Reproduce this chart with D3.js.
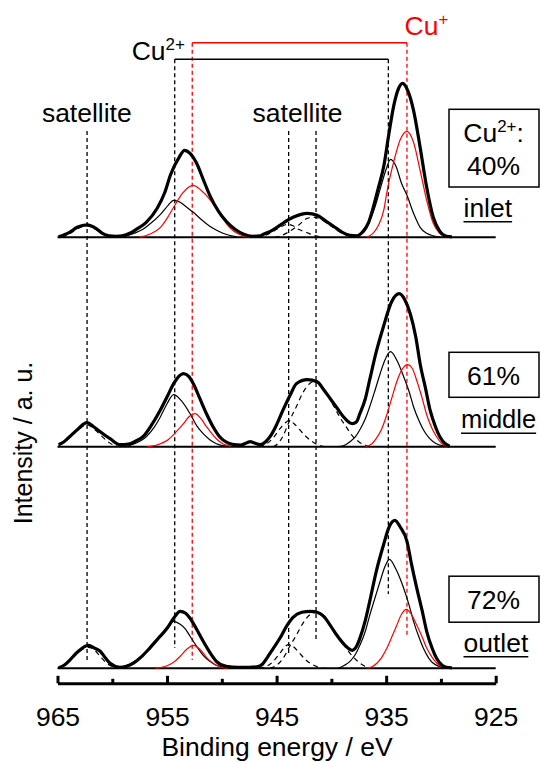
<!DOCTYPE html>
<html>
<head>
<meta charset="utf-8">
<script src="https://cdn.jsdelivr.net/npm/d3@7"></script>
<style>
  body { margin: 0; background: #fff; }
  text { font-family: "Liberation Sans", Arial, sans-serif; }
</style>
</head>
<body>
<svg id="chart" width="540" height="762"></svg>
<script>
// [binding energy (eV), intensity (a.u.)]

let inletEnvelope = [[964.9,0.5],[963.9,5],[963.2,10],[962.3,12.5],[961.5,9],[960.9,4],[960.3,1.5],[959.6,1],[959.1,1.5],[958.4,4],[957.8,8],[956.9,15],[955.9,29],[955.2,45],[954.7,62],[953.9,80],[953.4,87],[952.9,84],[952.3,74],[951.7,58],[951.1,42],[950.3,26],[949.6,16],[948.8,8],[948.0,3],[947.2,1],[946.5,1.5],[946.2,3],[945.4,7],[944.7,12],[943.5,20],[942.2,24],[941.3,22],[940.6,17],[939.8,11],[939.0,5],[938.3,2],[937.7,1.5],[937.1,6],[936.6,15],[936.2,29],[935.7,50],[935.2,72],[934.8,100],[934.3,132],[933.9,148],[933.5,154],[933.0,146],[932.5,127],[931.9,90],[931.3,50],[930.7,20],[930.1,6],[929.5,1],[929.0,0.5]]
let inletCu2p32 = [[938.0,0],[937.4,2],[936.9,7],[936.5,16],[936.0,31],[935.5,50],[935.0,68],[934.6,78],[934.1,71],[933.6,54],[933.1,42],[932.5,24],[931.9,10],[931.3,4],[930.7,1.5],[930.0,0]]
let inletCu1p32 = [[936.8,0],[936.2,4],[935.7,12],[935.2,28],[934.9,47],[934.3,76],[933.7,98],[933.1,106],[932.5,95],[931.9,67],[931.3,37],[930.7,14],[930.1,4],[929.5,0]]
let inletCu2p12 = [[958.9,0.5],[958.1,3.5],[957.2,8],[956.6,13],[955.6,23],[954.9,32],[954.4,37],[953.8,35],[953.2,30],[952.6,25],[951.9,18],[951.1,11],[950.3,6],[949.5,2.5],[948.6,0.5]]
let inletCu1p12 = [[957.5,0],[956.6,3],[955.6,10],[955.0,19],[954.4,30],[953.6,44],[952.6,52],[951.9,47],[951.1,38],[950.2,24],[949.6,14],[948.9,6],[948.1,1.5],[947.5,0]]
let inletSat1 = [[964.6,0],[963.9,3.5],[963.2,8.5],[962.3,11.5],[961.6,8.5],[960.9,3.5],[960.3,1],[959.8,0]]
let inletSatA = [[946.8,0],[946.0,2],[945.3,6],[944.7,10],[944.0,13],[943.5,11.5],[943.0,8],[942.3,5],[941.6,2],[940.8,0]]
let inletSatB = [[945.2,0],[944.5,2],[943.8,6],[943.0,12],[942.2,19],[941.5,20],[940.8,17],[940.0,11],[939.2,5],[938.4,1.5],[937.7,0]]

let middleEnvelope = [[964.9,2],[964.4,5],[963.9,10],[963.2,17],[962.3,24],[961.7,20],[961.1,15],[960.6,11],[960.2,8],[959.3,2],[958.4,3],[957.8,6],[957.2,10],[956.4,22],[955.6,37],[954.9,52],[954.4,63],[953.5,73],[953.0,70],[952.6,63],[952.0,48],[951.4,33],[950.8,20],[950.2,10],[949.5,4],[948.9,2],[948.3,1.5],[947.7,4],[947.4,5],[947.1,4],[946.5,2],[946.0,5],[945.6,10],[945.0,22],[944.4,37],[943.7,53],[943.2,63],[942.2,67],[941.3,65],[940.7,57],[940.1,48],[939.5,39],[938.9,30],[938.1,23],[937.7,25],[937.4,33],[936.9,48],[936.5,67],[935.9,95],[935.25,120],[934.5,145],[933.8,153],[933.3,147],[932.8,133],[932.3,110],[931.9,83],[931.4,58],[931.0,37],[930.5,20],[930.1,10],[929.6,3],[929.2,0.5]]
let middleCu2p32 = [[939.4,0],[938.7,2],[938.3,5],[937.8,10],[937.4,17],[936.9,28],[936.5,40],[936.0,57],[935.55,73],[935.1,87],[934.6,95],[934.0,86],[933.4,70],[932.9,55],[932.5,40],[932.0,26],[931.6,17],[931.1,9],[930.7,5],[930.2,2],[929.8,1],[929.3,0]]
let middleCu1p32 = [[936.9,0],[936.3,3],[935.85,9],[935.4,18],[934.94,32],[934.5,48],[934.0,66],[933.5,78],[933.05,82],[932.6,78],[932.2,66],[931.7,48],[931.3,32],[930.8,18],[930.4,10],[929.9,3],[929.4,0]]
let middleCu2p12 = [[958.8,0],[958.1,2.5],[957.4,6],[956.9,10],[956.2,19],[955.6,30],[955.0,43],[954.4,52],[953.7,46],[952.9,33],[952.3,21],[951.7,13],[951.1,7],[950.5,3],[949.6,0.5]]
let middleCu1p12 = [[956.8,0],[955.6,3],[954.9,7],[954.4,12],[953.9,18],[953.5,23],[953.0,30],[952.45,33],[951.9,28],[951.4,20],[950.9,13],[950.5,8],[949.9,3],[949.2,0.5]]
let middleSat1 = [[964.9,1],[963.9,9],[963.2,16],[962.3,22],[961.7,18],[961.1,12],[960.4,5],[959.7,1],[959.2,0]]
let middleSatA = [[946.6,0],[945.9,3],[945.3,9],[944.7,18],[944.2,24],[943.9,26],[943.4,23],[942.9,17],[942.3,10],[941.6,4],[941.0,1],[940.4,0]]
let middleSatB = [[945.3,0],[944.9,3],[944.4,11],[943.9,24],[943.2,40],[942.6,54],[942.0,63],[941.6,65],[941.0,62],[940.4,53],[939.8,41],[939.2,29],[938.6,19],[938.1,11],[937.5,5],[936.9,1.5],[936.4,0]]

let outletEnvelope = [[964.9,0.5],[964.4,3],[963.9,8],[963.2,16],[962.2,23],[961.6,20],[961.1,17],[960.6,10],[960.2,5],[959.3,1],[958.7,2],[958.1,5],[957.3,12],[956.6,20],[955.8,30],[955.0,40],[954.4,50],[953.8,57],[953.3,55],[952.9,50],[952.3,39],[951.7,27],[951.1,16],[950.5,7],[949.6,2],[948.5,1],[947.5,1],[946.8,1.5],[946.3,4],[945.9,10],[945.3,20],[944.7,30],[944.1,42],[943.5,51],[942.7,56],[941.9,57],[941.3,56],[940.7,52],[940.1,43],[939.5,33],[938.75,23],[938.1,18],[937.7,22],[937.4,30],[936.9,48],[936.5,67],[935.9,97],[935.25,123],[934.7,142],[934.2,148],[933.7,141],[933.1,127],[932.7,105],[932.2,80],[931.7,57],[931.3,37],[930.8,20],[930.4,10],[929.9,3],[929.5,1],[929.0,0.5]]
let outletCu2p32 = [[939.4,0],[938.8,3],[938.3,7],[937.8,14],[937.4,23],[936.9,37],[936.5,53],[936.0,71],[935.55,87],[935.1,102],[934.7,109],[934.1,99],[933.4,80],[932.9,63],[932.5,47],[932.0,31],[931.6,20],[931.1,10],[930.7,5],[930.2,2],[929.8,0.7],[929.4,0]]
let outletCu1p32 = [[936.7,0],[936.2,2],[935.85,5],[935.4,11],[934.94,20],[934.5,31],[934.03,43],[933.6,54],[933.15,59],[932.7,54],[932.2,43],[931.7,31],[931.29,20],[930.8,11],[930.37,5],[929.9,1.5],[929.4,0]]
let outletCu2p12 = [[959.3,0.5],[958.7,3],[958.1,6],[957.2,13],[956.6,19],[955.8,29],[955.0,39],[954.4,47],[953.8,44],[953.3,39],[952.9,32],[952.3,22],[951.7,13],[951.1,7],[950.5,3],[949.6,0.5]]
let outletCu1p12 = [[956.0,0],[955.0,2.5],[954.4,6],[953.8,12],[953.2,19],[952.6,23],[952.0,19],[951.4,11],[950.8,5],[950.2,1.5],[949.5,0]]
let outletSat1 = [[964.9,0.5],[963.9,7],[963.2,15],[962.2,21],[961.6,18],[961.1,12],[960.5,5],[959.9,1.5],[959.3,0]]
let outletSatA = [[946.6,0],[945.9,2],[945.3,7],[944.7,15],[944.2,22],[943.9,24],[943.4,21],[942.9,15],[942.3,8],[941.6,3],[941.0,0.5],[940.4,0]]
let outletSatB = [[945.6,0],[945.0,3],[944.4,10],[943.9,20],[943.2,33],[942.6,45],[941.9,54],[941.4,56],[940.7,52],[940.1,43],[939.5,33],[938.9,24],[938.3,15],[937.7,8],[937.1,3],[936.5,0]]

let sampleNames = ['inlet', 'middle', 'outlet']
let cu2Share = ['40%', '61%', '72%']
let guideEnergy = [962.3, 954.3, 952.7, 943.9, 941.4, 934.8, 933.1]
let majorTicks = [965, 955, 945, 935, 925]
let minorTicks = [960, 950, 940, 930]

let svg = d3.select('#chart')
let font = '"Liberation Sans", Arial, sans-serif'
let red = '#ff0000'

let x = d3.scaleLinear().domain([965, 925]).range([57.5, 495.7])

// plain text, a little wider than the font's own shapes like the original
function label(g, px, py, str, opts = {}) {
    let sx = opts.sx || 1.06
    return g.append('text')
        .attr('transform', `translate(${px},${py}) scale(${sx},1)`)
        .attr('text-anchor', opts.anchor || 'start')
        .attr('font-size', opts.size || 25)
        .attr('fill', opts.color || '#000')
        .text(str)
}

// guide lines for peak positions
let guides = [
    {top: 131, bottom: 660, color: '#000'},
    {top: 59.3, bottom: 648, color: '#000'},
    {top: 42.7, bottom: 660, color: red},
    {top: 131, bottom: 655, color: '#000'},
    {top: 131, bottom: 641, color: '#000'},
    {top: 59.3, bottom: 594, color: '#000'},
    {top: 42.7, bottom: 635, color: red},
]
svg.append('g')
    .selectAll('line')
    .data(guides)
    .enter().append('line')
    .attr('x1', (d, i) => x(guideEnergy[i]))
    .attr('x2', (d, i) => x(guideEnergy[i]))
    .attr('y1', d => d.top)
    .attr('y2', d => d.bottom)
    .attr('stroke', d => d.color)
    .attr('stroke-width', 1.3)
    .attr('stroke-dasharray', '4,3')

// brackets
svg.append('line')
    .attr('x1', x(guideEnergy[1])).attr('x2', x(guideEnergy[5]))
    .attr('y1', 59.3).attr('y2', 59.3)
    .attr('stroke', '#000').attr('stroke-width', 1.4)
svg.append('line')
    .attr('x1', x(guideEnergy[2])).attr('x2', x(guideEnergy[6]))
    .attr('y1', 42.7).attr('y2', 42.7)
    .attr('stroke', red).attr('stroke-width', 1.4)

let cu2 = label(svg, 131.7, 60, 'Cu')
cu2.append('tspan').attr('dy', -10).attr('font-size', 16).text('2+')
let cu1 = label(svg, 404.6, 35, 'Cu', {color: red})
cu1.append('tspan').attr('dy', -10).attr('font-size', 16).text('+')

label(svg, 86.8, 122, 'satellite', {anchor: 'middle'})
label(svg, 297.5, 122, 'satellite', {anchor: 'middle'})

// spectra
let panels = [
    {base: 237.3, envelope: inletEnvelope, black: [inletCu2p32, inletCu2p12], red: [inletCu1p32, inletCu1p12], dashed: [inletSat1, inletSatA, inletSatB],
        box: [109.3, 77.7], shareY: 174.5, nameX: 463.5, nameY: 216.7, nameSx: 1.06},
    {base: 446.7, envelope: middleEnvelope, black: [middleCu2p32, middleCu2p12], red: [middleCu1p32, middleCu1p12], dashed: [middleSat1, middleSatA, middleSatB],
        box: [352.3, 45], shareY: 384.5, nameX: 461, nameY: 428.3, nameSx: 1.02},
    {base: 668.3, envelope: outletEnvelope, black: [outletCu2p32, outletCu2p12], red: [outletCu1p32, outletCu1p12], dashed: [outletSat1, outletSatA, outletSatB],
        box: [576.2, 46], shareY: 609, nameX: 463.5, nameY: 651.7, nameSx: 1.06},
]

panels.forEach((p, i) => {
    let y = d3.scaleLinear().domain([0, 160]).range([p.base, p.base - 160])
    let line = d3.line()
        .x(d => x(d[0]))
        .y(d => y(d[1]))
        .curve(d3.curveMonotoneX)
    let g = svg.append('g').attr('class', 'panel')

    g.append('line')
        .attr('x1', x(965)).attr('x2', x(925))
        .attr('y1', y(0)).attr('y2', y(0))
        .attr('stroke', '#000').attr('stroke-width', 2)

    g.selectAll('path.dash')
        .data(p.dashed)
        .enter().append('path')
        .attr('class', 'dash')
        .attr('d', line)
        .attr('fill', 'none')
        .attr('stroke', '#000')
        .attr('stroke-width', 1.2)
        .attr('stroke-dasharray', '5,4')

    g.selectAll('path.black')
        .data(p.black)
        .enter().append('path')
        .attr('class', 'black')
        .attr('d', line)
        .attr('fill', 'none')
        .attr('stroke', '#000')
        .attr('stroke-width', 1.2)

    g.selectAll('path.red')
        .data(p.red)
        .enter().append('path')
        .attr('class', 'red')
        .attr('d', line)
        .attr('fill', 'none')
        .attr('stroke', red)
        .attr('stroke-width', 1.2)

    g.append('path')
        .attr('d', line(p.envelope))
        .attr('fill', 'none')
        .attr('stroke', '#000')
        .attr('stroke-width', 3.2)
        .attr('stroke-linejoin', 'round')

    // share box and sample name
    g.append('rect')
        .attr('x', 449).attr('y', p.box[0])
        .attr('width', 90).attr('height', p.box[1])
        .attr('fill', '#fff')
        .attr('stroke', '#000').attr('stroke-width', 1.5)
    if (i === 0) {
        let t = label(g, 463.3, 141.7, 'Cu')
        t.append('tspan').attr('dy', -10).attr('font-size', 16).text('2+')
        t.append('tspan').attr('dy', 10).text(':')
    }
    label(g, 467, p.shareY, cu2Share[i])
    let nm = label(g, p.nameX, p.nameY, sampleNames[i], {sx: p.nameSx})
    let w = nm.node().getBBox().width * p.nameSx
    g.append('line')
        .attr('x1', p.nameX).attr('x2', p.nameX + w)
        .attr('y1', p.nameY + 5).attr('y2', p.nameY + 5)
        .attr('stroke', '#000').attr('stroke-width', 1.5)
})

// x axis, ticks pointing up
let axisY = 683.3
let minor = svg.append('g')
    .attr('transform', `translate(0,${axisY})`)
    .call(d3.axisBottom(x).tickValues(minorTicks).tickSize(-4.5).tickFormat(''))
minor.select('.domain').remove()
minor.selectAll('line').attr('stroke-width', 3)

let major = svg.append('g')
    .attr('transform', `translate(0,${axisY})`)
    .call(d3.axisBottom(x).tickValues(majorTicks).tickSizeInner(-7.5).tickSizeOuter(0).tickFormat(d3.format('d')))
major.select('.domain').attr('stroke-width', 3)
major.selectAll('line').attr('stroke-width', 3)
major.selectAll('text')
    .attr('y', 42.7)
    .attr('dy', 0)
    .attr('transform', 'scale(1.06,1)')
    .attr('font-size', 25)
    .attr('font-family', font)
    .attr('fill', '#000')

label(svg, 277, 756, 'Binding energy / eV', {anchor: 'middle'})

svg.append('text')
    .attr('transform', 'translate(31.7,443) rotate(-90)')
    .attr('text-anchor', 'middle')
    .attr('font-size', 25)
    .text('Intensity / a. u.')
</script>
</body>
</html>
